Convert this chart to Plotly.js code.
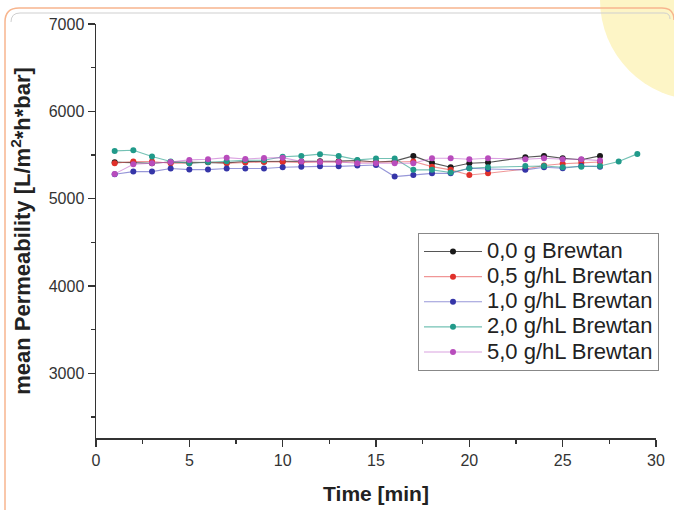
<!DOCTYPE html>
<html>
<head>
<meta charset="utf-8">
<script src="https://cdn.plot.ly/plotly-3.0.1.min.js"></script>
<style>html,body{margin:0;padding:0;background:#fff;}#chart{width:674px;height:510px;}</style>
</head>
<body>
<div id="chart"></div>
<script>
// ---- data ----
const seriesNames = ["0,0 g Brewtan", "0,5 g/hL Brewtan", "1,0 g/hL Brewtan", "2,0 g/hL Brewtan", "5,0 g/hL Brewtan"];
const times = [1,2,3,4,5,6,7,8,9,10,11,12,13,14,15,16,17,18,19,20,21,23,24,25,26,27];
const timesTeal = [1,2,3,4,5,6,7,8,9,10,11,12,13,14,15,16,17,18,19,20,21,23,24,25,26,27,28,29];
const perm00 = [5418,5410,5405,5420,5415,5418,5410,5425,5425,5425,5425,5430,5430,5437,5420,5430,5490,5410,5360,5406,5415,5475,5490,5463,5445,5490];
const perm05 = [5406,5425,5425,5406,5406,5420,5406,5415,5420,5420,5415,5420,5420,5420,5415,5420,5425,5367,5330,5272,5292,5340,5380,5400,5410,5420];
const perm10 = [5280,5310,5310,5345,5333,5333,5345,5345,5345,5360,5367,5370,5370,5380,5385,5253,5272,5290,5290,5349,5340,5330,5360,5349,5375,5367];
const perm20 = [5547,5555,5482,5425,5406,5420,5430,5440,5440,5480,5490,5510,5490,5444,5460,5460,5330,5330,5300,5349,5360,5375,5375,5360,5367,5375,5425,5513];
const perm50 = [5284,5395,5406,5420,5444,5452,5470,5455,5465,5470,5425,5420,5420,5406,5406,5406,5406,5463,5463,5452,5463,5452,5463,5452,5452,5436];
const xTicks = [0,5,10,15,20,25,30];
const yTicks = [3000,4000,5000,6000,7000];

const markerColors = ["#1a1a1a", "#e0302a", "#3535a8", "#219a8a", "#b84cbc"];
const lineColors = ["rgba(30,30,30,0.75)", "rgba(230,80,80,0.6)", "rgba(80,80,190,0.6)", "rgba(40,160,140,0.65)", "rgba(195,100,205,0.6)"];
const xs = [times, times, times, timesTeal, times];
const ys = [perm00, perm05, perm10, perm20, perm50];

const traces = seriesNames.map((n, i) => ({
  type: "scatter", mode: "lines+markers",
  name: "<span style='font-size:22px'>" + n + "</span>",
  x: xs[i], y: ys[i],
  line: {color: lineColors[i], width: 1.1},
  marker: {color: markerColors[i], size: 6}
}));

// plot area pixel geometry
const L = 96, R = 656, T = 24, B = 438;
const px = v => (v - L) / (R - L);
const py = v => (B - v) / (B - T);
const FONT = "Liberation Sans, Arial, sans-serif";

const layout = {
  width: 674, height: 510,
  margin: {l: L, r: 674 - R, t: T, b: 510 - B},
  paper_bgcolor: "rgba(0,0,0,0)",
  plot_bgcolor: "rgba(0,0,0,0)",
  font: {family: FONT, color: "#333"},
  showlegend: true,
  legend: {
    x: px(418), y: py(233), xanchor: "left", yanchor: "top",
    bgcolor: "#ffffff", bordercolor: "#888", borderwidth: 1,
    font: {size: 17, color: "#222"}, tracegroupgap: 0, itemwidth: 58
  },
  xaxis: {
    range: [0, 30], tickvals: xTicks, ticktext: xTicks.map(String),
    ticks: "outside", ticklen: 7, tickwidth: 1.3, tickcolor: "#333",
    minor: {tickvals: [2.5, 7.5, 12.5, 17.5, 22.5, 27.5], ticks: "outside", ticklen: 4, tickcolor: "#333", tickwidth: 1.2},
    showline: true, linecolor: "#333", linewidth: 1.5, showgrid: false, zeroline: false,
    tickfont: {size: 16, color: "#333"},
    title: {text: "Time [min]", font: {size: 21, color: "#222", family: FONT, weight: "bold"}, standoff: 18}
  },
  yaxis: {
    range: [2260, 7000], tickvals: yTicks, ticktext: yTicks.map(String),
    ticks: "outside", ticklen: 7, tickwidth: 1.3, tickcolor: "#333",
    minor: {tickvals: [2500, 3500, 4500, 5500, 6500], ticks: "outside", ticklen: 4, tickcolor: "#333", tickwidth: 1.2},
    showline: true, linecolor: "#333", linewidth: 1.5, showgrid: false, zeroline: false,
    tickfont: {size: 16, color: "#333"},
    title: {text: "mean Permeability [L/m<sup>2</sup>*h*bar]", font: {size: 22, color: "#222", family: FONT, weight: "bold"}, standoff: 12}
  },
  shapes: [
    {type: "circle", xref: "paper", yref: "paper", layer: "below",
     x0: px(600), x1: px(800), y0: py(100), y1: py(-100),
     fillcolor: "#fdf5c6", line: {width: 0}},
    {type: "path", xref: "paper", yref: "paper", layer: "below",
     path: `M ${px(5)} ${py(520)} L ${px(5)} ${py(22)} Q ${px(5)} ${py(8)} ${px(19)} ${py(8)} L ${px(662)} ${py(8)} Q ${px(674)} ${py(8)} ${px(674)} ${py(20)}`,
     line: {color: "#f7b58e", width: 1.5}},
    {type: "path", xref: "paper", yref: "paper", layer: "below",
     path: `M ${px(11)} ${py(22)} Q ${px(11)} ${py(13)} ${px(20)} ${py(13)} L ${px(664)} ${py(13)} Q ${px(670)} ${py(13)} ${px(670)} ${py(19)}`,
     line: {color: "#cfcfcf", width: 1}}
  ]
};

Plotly.newPlot("chart", traces, layout, {displayModeBar: false, staticPlot: true});
</script>
</body>
</html>
